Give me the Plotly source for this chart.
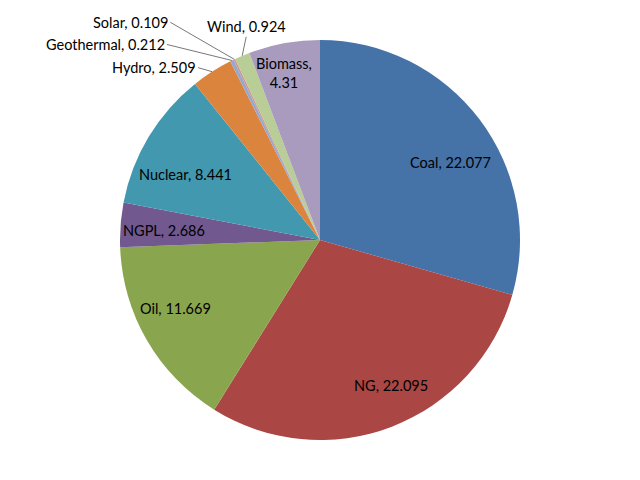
# Energy sources pie chart (quadrillion Btu)

import numpy as np
import plotly.graph_objs as go

# Data
sources = ["Coal", "NG", "Oil", "NGPL", "Nuclear", "Hydro",
           "Geothermal", "Solar", "Wind", "Biomass"]
values = [22.077, 22.095, 11.669, 2.686, 8.441, 2.509, 0.212, 0.109, 0.924, 4.31]
colors = ["#4572A7", "#AA4643", "#89A54E", "#71588F", "#4198AF",
          "#DB843D", "#93A9CF", "#D19392", "#B9CD96", "#A99BBD"]

# Label placement: inside labels at a fraction of the radius plus a small
# pixel nudge (frac, dx, dy); outside labels get a leader line (ax, ay, xanchor)
inside_pos = {"Coal": (0.76, 9, 14), "NG": (0.80, 13, -4), "Oil": (0.80, -6, -12),
              "NGPL": (0.79, 2, 3), "Nuclear": (0.74, -8, 11),
              "Biomass": (0.85, -5, 0)}
outside_off = {"Hydro": (-14, -4, "right"), "Geothermal": (-65, -16, "right"),
               "Solar": (-64, -37, "right"), "Wind": (4, -19, "center")}

# Figure geometry (page body adds 8px offset)
W, H = 640, 480
cx_px, cy_px, r_px = 312, 232, 200
dom_x = [(cx_px - r_px) / W, (cx_px + r_px) / W]
dom_y = [1 - (cy_px + r_px) / H, 1 - (cy_px - r_px) / H]

font = dict(family = "Lato", size = 14.5, color = "black")

trace = go.Pie(
    labels = sources,
    values = values,
    sort = False,
    direction = "clockwise",
    rotation = 0,
    marker = dict(colors = colors, line = dict(width = 0)),
    textinfo = "none",
    showlegend = False,
    hoverinfo = "label+value",
    domain = dict(x = dom_x, y = dom_y),
)

# Mid angle of each slice, clockwise from 12 o'clock
vals = np.array(values)
mids = 2 * np.pi * (np.cumsum(vals) - vals / 2) / vals.sum()

annotations = []
for name, val, th in zip(sources, values, mids):
    if name in inside_pos:
        f, dx, dy = inside_pos[name]
        sep = ",<br>" if name == "Biomass" else ", "
        annotations.append(dict(
            x = (cx_px + f * r_px * np.sin(th)) / W,
            y = 1 - (cy_px - f * r_px * np.cos(th)) / H,
            xref = "paper", yref = "paper",
            xanchor = "center", yanchor = "middle",
            xshift = dx, yshift = -dy,
            text = f"{name}{sep}{val}",
            showarrow = False,
            font = font,
        ))
    else:
        ax, ay, xa = outside_off[name]
        annotations.append(dict(
            x = (cx_px + r_px * np.sin(th)) / W,
            y = 1 - (cy_px - r_px * np.cos(th)) / H,
            xref = "paper", yref = "paper",
            text = f"{name}, {val}",
            showarrow = True,
            arrowhead = 0,
            arrowwidth = 0.8,
            arrowcolor = "#555555",
            ax = ax, ay = ay,
            xanchor = xa,
            yanchor = "bottom" if xa == "center" else "middle",
            standoff = 0,
            font = font,
        ))

layout = dict(
    width = W,
    height = H,
    margin = dict(l = 0, r = 0, t = 0, b = 0),
    paper_bgcolor = "white",
    plot_bgcolor = "white",
    annotations = annotations,
)

fig = go.Figure(data = [trace], layout = layout)
fig.write_html("out.html")
